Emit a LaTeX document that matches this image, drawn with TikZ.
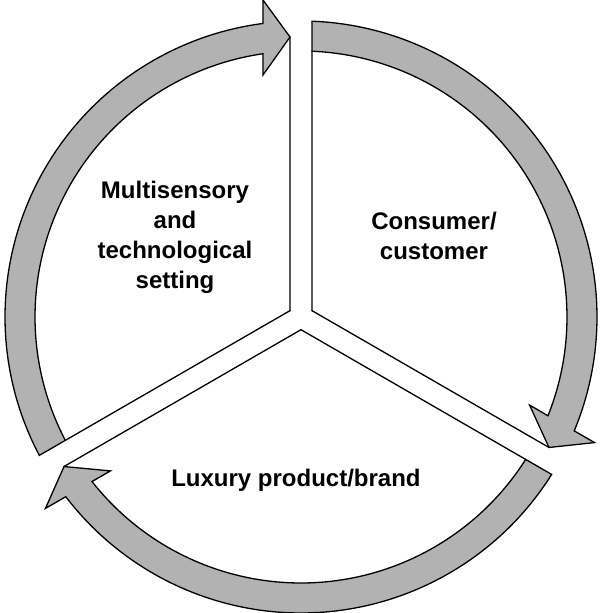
\documentclass[tikz,border=0pt]{standalone}
\usepackage{fontspec}
\setmainfont{Liberation Sans}
\usetikzlibrary{positioning}
\tikzstyle{cyclearrow} = [fill=gray!60, draw=black, line width=1.3pt, line join=miter]
\tikzstyle{divider} = [draw=black, line width=1.3pt, line cap=round]
\tikzstyle{stage} = [align=center, font=\bfseries\fontsize{24}{30}\selectfont]
% one arrow of the cycle, drawn pointing at the top divider
\newcommand{\cyclepiece}{%
  \draw[cyclearrow] (-38,317) -- (-11,280) -- (-38,242) -- (98.21:266)
    arc[start angle=98.21, end angle=207.63, radius=266pt] -- (207.87:296)
    arc[start angle=207.87, end angle=97.38, radius=296pt] -- cycle;
  \draw[divider] (150:12.7) -- (-11,280);
  \draw[divider] (30:12.7) -- (11,265.8);}

\begin{document}
\begin{tikzpicture}[x=1pt, y=1pt]
  \useasboundingbox (-301,-296) rectangle (299,317);
  \coordinate (hub) at (0,0);
  \begin{scope}[rotate=0] \cyclepiece \end{scope}
  \begin{scope}[rotate=-120] \cyclepiece \end{scope}
  \begin{scope}[rotate=120] \cyclepiece \end{scope}
  \node[stage] (setting) at (-126,80) {Multisensory\\and\\technological\\setting};
  \node[stage] (consumer) at (133,81) {Consumer/\\customer};
  \node[stage] (brand) at (-5,-163) {Luxury product/brand};
\end{tikzpicture}
\end{document}
